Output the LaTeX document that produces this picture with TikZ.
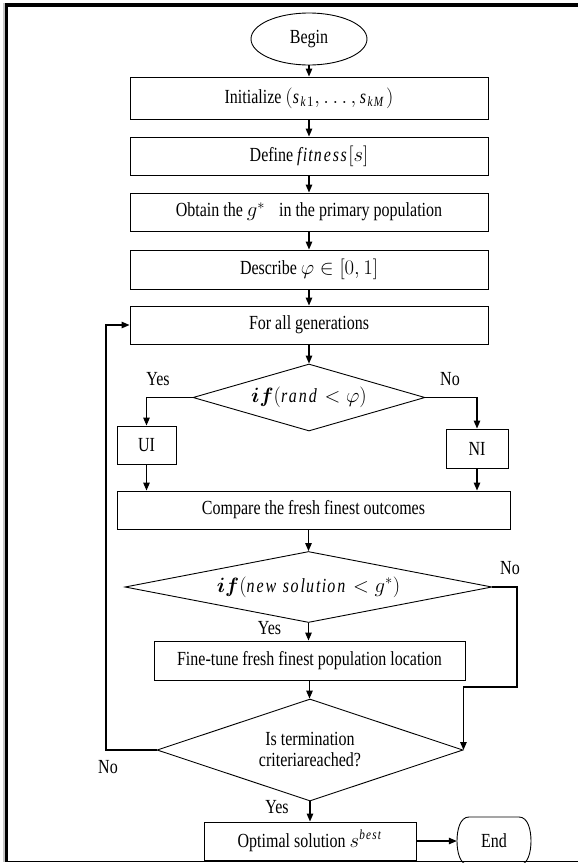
\documentclass[tikz,border=0pt]{standalone}
\usepackage{amsmath}
\usepackage{fontspec}
\setmainfont{Liberation Serif}[FakeStretch=0.8]
\usetikzlibrary{shapes.geometric,arrows.meta}
\begin{document}
\begin{tikzpicture}[x=1pt,y=-1pt,
  every node/.style={font=\fontsize{20}{21}\selectfont, inner sep=0pt},
  box/.style={draw, line width=0.9pt, minimum height=38pt},
  dia/.style={draw, diamond, line width=0.9pt},
  conn/.style={line width=1.2pt, -{Triangle[length=8pt,width=6.5pt]}},
  lab/.style={inner sep=0pt}
]
\useasboundingbox (0,0) rectangle (578,863);
% frame
\fill[gray!45] (2.5,3) rectangle (4.5,862);
\fill[black] (4.5,3) rectangle (8,862.3);
\fill[black] (4.5,3) rectangle (578,7);
\fill[black] (4.5,860.8) rectangle (578,862.3);

% nodes
\node[draw, ellipse, line width=0.9pt, minimum width=116pt, minimum height=52pt] (begin) at (309,39) {Begin};
\node[box, minimum width=358pt, minimum height=42pt] (init) at (309,98) {Initialize $(\mathit{s}_{\mathit{k}1},\ldots,\mathit{s}_{\mathit{kM}})$};
\node[box, minimum width=358pt] (define) at (309,156) {Define $\mathit{fitness}[s]$};
\node[box, minimum width=358pt] (obtain) at (309,212) {Obtain the $g^{*}$\hspace{0.5em} in the primary population};
\node[box, minimum width=358pt, minimum height=39pt] (describe) at (309,269.5) {Describe $\varphi \in [0,1]$};
\node[box, minimum width=358pt] (forall) at (309,325) {For all generations};
\node[dia, shape aspect=3.46, minimum width=232pt, minimum height=67pt] (d1) at (309,397.5) {$\boldsymbol{if}(\mathit{rand} < \varphi)$};
\node[box, minimum width=59pt] (ui) at (146.5,445) {UI};
\node[box, minimum width=62pt, minimum height=39pt] (ni) at (477,448.5) {NI};
\node[box, minimum width=393pt] (compare) at (313.5,510) {Compare the fresh finest outcomes};
\node[dia, shape aspect=5.2, minimum width=367pt, minimum height=71pt] (d2) at (308.5,587) {$\boldsymbol{if}(\mathit{new\ solution} < g^{*})$};
\node[box, minimum width=311pt, minimum height=39pt] (fine) at (309.5,660.5) {Fine-tune fresh finest population location};
\node[dia, shape aspect=3, minimum width=306pt, minimum height=102pt, align=center] (d3) at (310,750) {Is termination\\criteriareached?};
\node[box, minimum width=212pt] (optimal) at (310,841) {Optimal solution $s^{\mathit{best}}$};
\node[minimum width=74pt, minimum height=48pt] (end) at (494,841) {End};
\draw[line width=0.9pt] (469,817) -- (519,817) .. controls (528,817) and (531,830) .. (531,841) .. controls (531,852) and (528,865) .. (519,865) -- (469,865) .. controls (460,865) and (457,852) .. (457,841) .. controls (457,830) and (460,817) .. cycle;

% labels
\node[lab] (yes1) at (158,379) {Yes};
\node[lab] (no1) at (450,379) {No};
\node[lab] (no2) at (510,568) {No};
\node[lab] (yes2) at (269.5,628) {Yes};
\node[lab] (no3) at (108,767) {No};
\node[lab] (yes3) at (277,807) {Yes};

% helper coordinates
\coordinate (loopx) at (106,0);
\coordinate (rx) at (517,687);

% connectors
\draw[conn] (begin) -- (init);
\draw[conn] (init) -- (define);
\draw[conn] (define) -- (obtain);
\draw[conn] (obtain) -- (describe);
\draw[conn] (describe) -- (forall);
\draw[conn] (forall) -- (d1);
\draw[conn] (d1.west) -| (ui.north);
\draw[conn] (d1.east) -| (ni.north);
\draw[conn] (ui.south) -- (ui.south |- compare.north);
\draw[conn] (ni.south) -- (ni.south |- compare.north);
\draw[conn] (compare.south -| d2.north) -- (d2.north);
\draw[conn] (d2.south) -- (d2.south |- fine.north);
\draw[conn] (fine.south) -- (fine.south |- d3.north);
\draw[conn] (d3.south) -- (d3.south |- optimal.north);
\draw[conn] (optimal.east) -- (end.west);
\draw[conn] (d3.west) -- (d3.west -| loopx) |- (forall.west);
\draw[conn] (d2.east) -| (rx) -| (d3.east);
\end{tikzpicture}
\end{document}
